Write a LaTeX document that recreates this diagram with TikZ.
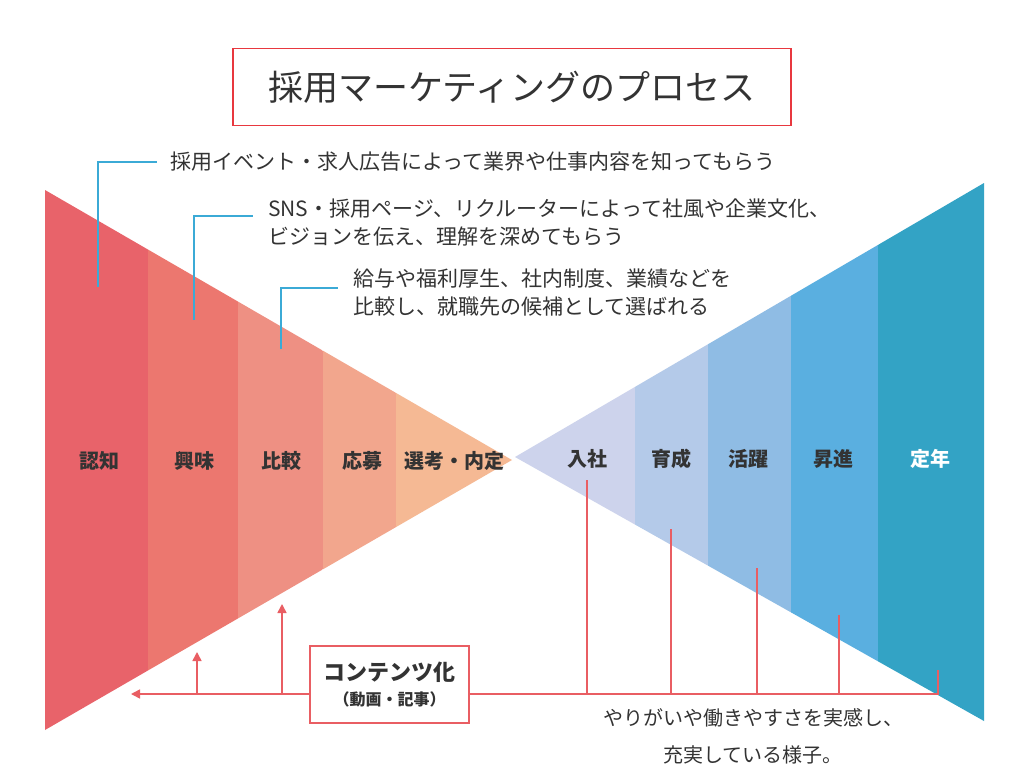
\documentclass[tikz,border=0pt]{standalone}
\usepackage{fontspec}
\setmainfont{Noto Sans CJK JP}
\usetikzlibrary{positioning,arrows.meta}
\definecolor{darktext}{HTML}{333333}
\definecolor{titlered}{HTML}{E8383F}
\definecolor{linkred}{HTML}{E95E63}
\definecolor{calloutblue}{HTML}{3BAAD6}
\definecolor{ninchicol}{HTML}{E8636A}
\definecolor{kyomicol}{HTML}{EC776F}
\definecolor{hikakucol}{HTML}{EE9083}
\definecolor{oubocol}{HTML}{F2A68D}
\definecolor{senkoucol}{HTML}{F5B994}
\definecolor{nyushacol}{HTML}{CDD3EC}
\definecolor{ikuseicol}{HTML}{B4CAE9}
\definecolor{katsuyakucol}{HTML}{8FBCE4}
\definecolor{shoshincol}{HTML}{5AAFE0}
\definecolor{teinencol}{HTML}{33A3C5}
\tikzstyle{titlebox} = [draw=titlered, line width=1.2pt, minimum width=558pt,
    minimum height=77pt, text=darktext, font=\fontsize{35}{40}\selectfont]
\tikzstyle{stage} = [text=darktext, font=\bfseries\fontsize{20}{24}\selectfont]
\tikzstyle{desc} = [inner sep=0pt, align=left, text=darktext,
    font=\fontsize{21}{28}\selectfont]
\tikzstyle{callout} = [draw=calloutblue, line width=1.8pt]
\tikzstyle{link} = [draw=linkred, line width=1.6pt]
\tikzstyle{contentbox} = [draw=linkred, line width=1.2pt, fill=white,
    minimum width=159pt, minimum height=77pt, align=center, text=darktext]

\begin{document}
\begin{tikzpicture}[x=1pt, y=-1pt, >={Triangle[length=9pt, width=9pt]}]
          \useasboundingbox (0,0) rectangle (1024,773);
          \fill[white] (0,0) rectangle (1024,773);

          % Title
          \node [titlebox] (title) at (512,87) {採用マーケティングのプロセス};

          % Left funnel
          \begin{scope}
            \clip (45,190) -- (512,460) -- (45,730) -- cycle;
            \foreach \xa/\xb/\col in {40/148/ninchicol, 148/238/kyomicol,
                238/323/hikakucol, 323/396/oubocol, 396/520/senkoucol}
              \fill[\col] (\xa,180) rectangle (\xb,740);
          \end{scope}

          % Right funnel
          \begin{scope}
            \clip (515,457) -- (984,183) -- (984,721) -- cycle;
            \foreach \xa/\xb/\col in {510/635/nyushacol, 635/708/ikuseicol,
                708/791/katsuyakucol, 791/878/shoshincol, 878/990/teinencol}
              \fill[\col] (\xa,175) rectangle (\xb,730);
          \end{scope}

          % Stages
          \node [stage] (ninchi) at (99,461) {認知};
          \node [stage] (kyomi) at (194,461) {興味};
          \node [stage] (hikaku) at (281,461) {比較};
          \node [stage] (oubo) at (362,461) {応募};
          \node [stage] (senkou) at (454,461) {選考・内定};
          \node [stage] (nyusha) at (587,459) {入社};
          \node [stage] (ikusei) at (671,459) {育成};
          \node [stage] (katsuyaku) at (748,459) {活躍};
          \node [stage] (shoshin) at (833,459) {昇進};
          \node [stage, text=white] (teinen) at (930,459) {定年};

          % Callouts
          \coordinate (c1foot) at (98,287);
          \coordinate (c1end) at (157,162);
          \coordinate (c2foot) at (194,320);
          \coordinate (c2end) at (253,216);
          \coordinate (c3foot) at (281,349);
          \coordinate (c3end) at (338,288);
          \draw [callout] (c1foot) |- (c1end);
          \draw [callout] (c2foot) |- (c2end);
          \draw [callout] (c3foot) |- (c3end);
          \node [desc, right=13pt of c1end] (desc1)
              {採用イベント・求人広告によって業界や仕事内容を知ってもらう};
          \node [desc, right=15pt of c2end, yshift=-6.5pt] (desc2)
              {SNS・採用ページ、リクルーターによって社風や企業文化、\\ビジョンを伝え、理解を深めてもらう};
          \node [desc, right=15pt of c3end, yshift=-5pt] (desc3)
              {給与や福利厚生、社内制度、業績などを\\比較し、就職先の候補として選ばれる};

          % Contents
          \node [contentbox] (content) at (389.5,684.5)
              {{\bfseries\fontsize{22}{26}\selectfont コンテンツ化}\\[9pt]
               {\bfseries\fontsize{16}{18}\selectfont （動画・記事）}};
          \coordinate (tip) at (131,694);
          \coordinate (upA) at (197,652);
          \coordinate (upB) at (282,604);
          \draw [link, ->] (content.west |- tip) -- (tip);
          \draw [link, ->] (upA |- tip) -- (upA);
          \draw [link, ->] (upB |- tip) -- (upB);

          \coordinate (nyushaTop) at (587,480);
          \coordinate (ikuseiTop) at (671,529);
          \coordinate (katsuyakuTop) at (757,568);
          \coordinate (shoshinTop) at (839,615);
          \coordinate (teinenTop) at (938,670);
          \draw [link] (content.east |- tip) -- (teinenTop |- tip) -- (teinenTop);
          \foreach \n in {nyushaTop, ikuseiTop, katsuyakuTop, shoshinTop}
            \draw [link] (\n) -- (\n |- tip);

          \node [desc, align=center, font=\fontsize{20}{37}\selectfont] (result) at (753,736.5)
              {やりがいや働きやすさを実感し、\\充実している様子。};
      \end{tikzpicture}
\end{document}
